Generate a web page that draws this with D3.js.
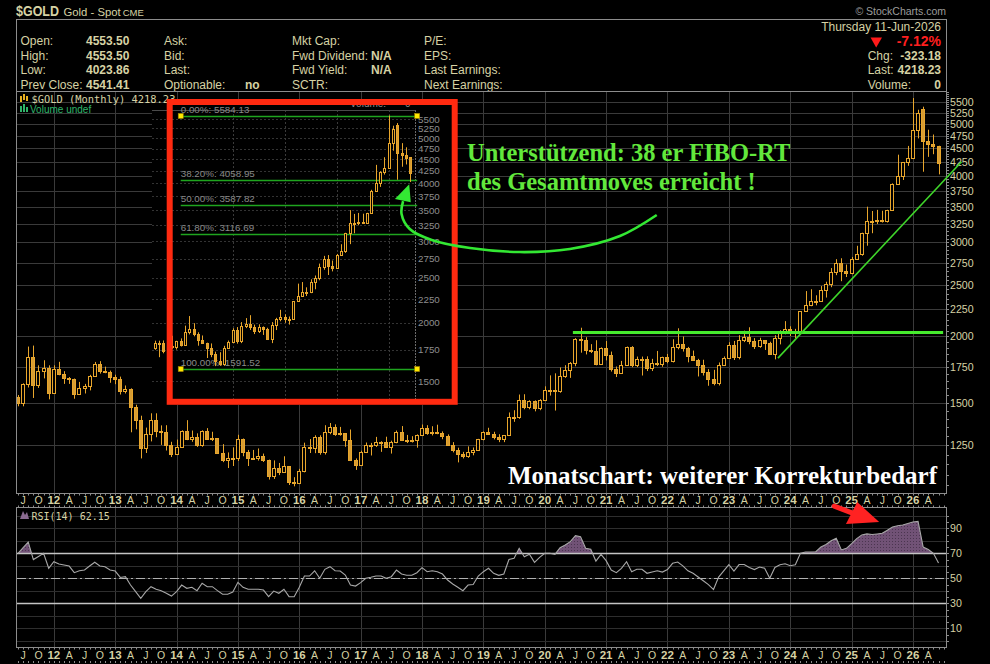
<!DOCTYPE html>
<html><head><meta charset="utf-8">
<script src="https://cdn.jsdelivr.net/npm/d3@7/dist/d3.min.js"></script>
<style>html,body{margin:0;padding:0;background:#000;overflow:hidden}svg{display:block}</style>
</head><body>
<svg id="chart" width="990" height="664"></svg>
<script>
// ================= DATA =================
const startMonth = "2011-06"; // first monthly bar (Jun 2011) ... last = Jun 2026
const opens = [
1536,1500,1628,1826,1620,1722,1746,
1565,1738,1697,1669,1664,1560,1598,1615,1687,1772,1719,1712,
1675,1663,1578,1595,1472,1393,1234,1312,1396,1327,1323,1253,
1202,1240,1326,1284,1296,1250,1327,1282,1287,1210,1171,1182,
1184,1283,1212,1183,1183,1190,1172,1095,1133,1115,1142,1065,
1061,1118,1238,1233,1293,1215,1321,1351,1309,1316,1277,1173,
1146,1211,1249,1249,1269,1268,1242,1269,1322,1280,1271,1275,
1303,1345,1318,1325,1316,1299,1253,1224,1201,1192,1215,1222,
1282,1321,1313,1292,1284,1305,1409,1413,1520,1472,1513,1464,
1517,1589,1585,1577,1687,1730,1781,1975,1968,1886,1879,1777,
1898,1847,1734,1708,1769,1907,1770,1814,1813,1743,1783,1774,
1829,1796,1909,1937,1897,1838,1807,1766,1711,1660,1633,1768,
1824,1928,1827,1969,1990,1963,1919,1965,1940,1849,1983,2036,
2063,2039,2044,2230,2286,2327,2327,2447,2503,2635,2744,2653,
2625,2798,2858,3124,3289,3289,3303,3290,3448,3858,4003,4239,
4319,4875,5330,4640,4590,4553.5];
const highs = [
1552,1632,1913,1921,1764,1803,1764,
1764,1791,1720,1677,1666,1642,1628,1693,1790,1796,1754,1724,
1694,1680,1617,1597,1488,1419,1348,1434,1434,1361,1362,1268,
1280,1332,1392,1331,1315,1332,1345,1324,1288,1255,1211,1238,
1307,1286,1224,1224,1232,1205,1174,1170,1157,1191,1142,1088,
1128,1263,1283,1304,1304,1362,1375,1367,1352,1317,1337,1180,
1220,1264,1262,1295,1271,1296,1274,1331,1357,1306,1299,1309,
1366,1362,1356,1365,1326,1309,1266,1236,1214,1243,1237,1284,
1326,1347,1324,1310,1305,1439,1453,1555,1557,1517,1516,1524,
1611,1689,1704,1748,1765,1789,1984,2075,1992,1933,1966,1906,
1959,1872,1755,1798,1913,1916,1832,1832,1834,1814,1877,1831,
1853,1974,2070,1998,1910,1880,1814,1807,1735,1730,1786,1833,
1949,1960,2009,2049,2079,1984,1987,1966,1953,2009,2052,2135,
2088,2065,2222,2431,2450,2387,2484,2531,2685,2790,2801,2726,
2817,2956,3128,3500,3435,3452,3439,3454,3871,4381,4245,4550,
5595,5320,5390,4880,4780,4553.5];
const lows = [
1478,1478,1603,1532,1600,1667,1523,
1563,1690,1628,1628,1527,1555,1562,1583,1684,1702,1705,1636,
1626,1555,1562,1321,1338,1180,1208,1270,1293,1251,1221,1187,
1202,1240,1277,1268,1240,1241,1281,1272,1207,1161,1132,1142,
1167,1191,1142,1175,1169,1162,1077,1080,1098,1111,1052,1046,
1061,1111,1208,1207,1199,1200,1310,1301,1302,1241,1171,1123,
1146,1209,1195,1240,1214,1236,1205,1260,1272,1261,1264,1236,
1302,1307,1303,1310,1282,1247,1211,1160,1180,1183,1196,1221,
1276,1311,1281,1266,1266,1305,1382,1400,1459,1459,1446,1453,
1517,1548,1451,1567,1671,1671,1757,1863,1849,1860,1764,1776,
1802,1717,1677,1705,1766,1750,1751,1688,1721,1721,1759,1753,
1780,1786,1890,1872,1787,1805,1681,1688,1615,1618,1617,1765,
1823,1805,1810,1950,1932,1893,1903,1885,1847,1810,1931,2017,
2002,1984,2039,2229,2277,2286,2319,2364,2472,2604,2537,2583,
2614,2790,2832,2957,3121,3247,3268,3268,3436,3850,3928,4175,
4300,4700,4070,4340,4390,4023.86];
const closes = [
1500,1628,1826,1620,1722,1746,1565,
1738,1697,1669,1664,1560,1598,1615,1687,1772,1719,1712,1675,
1663,1578,1595,1472,1393,1234,1312,1396,1327,1323,1253,1202,
1240,1326,1284,1296,1250,1327,1282,1287,1210,1171,1182,1184,
1283,1212,1183,1183,1190,1172,1095,1133,1115,1142,1065,1061,
1118,1238,1233,1293,1215,1321,1351,1309,1316,1277,1173,1146,
1211,1249,1249,1269,1268,1242,1269,1322,1280,1271,1275,1303,
1345,1318,1325,1316,1299,1253,1224,1201,1192,1215,1222,1282,
1321,1313,1292,1284,1305,1409,1413,1520,1472,1513,1464,1517,
1589,1585,1577,1687,1730,1781,1975,1968,1886,1879,1777,1898,
1847,1734,1708,1769,1907,1770,1814,1813,1743,1783,1774,1829,
1796,1909,1937,1897,1838,1807,1766,1711,1660,1633,1768,1824,
1928,1827,1969,1990,1963,1919,1965,1940,1849,1983,2036,2063,
2039,2044,2230,2286,2327,2327,2447,2503,2635,2744,2653,2625,
2798,2858,3124,3289,3289,3303,3290,3448,3858,4003,4239,4319,
4875,5240,4640,4590,4541.41,4218.23];
const rsiValues = [
70,74.5,79,65,67.5,70,58,
63.3,61.4,60.6,59.8,54.5,56,56.6,59.8,62.8,59.8,59.3,56.6,
55.8,50.7,51.3,44.6,39.3,34,39.3,43.3,41.2,40.1,38,35.8,
39.3,44.6,42,42.8,40.1,46,43.3,43.3,40.1,37.2,37.2,39,
46.8,42.8,41.2,41.2,41.2,40.6,35.3,39.8,38,41.2,35.3,35.3,
42.8,51.8,51.8,56,50,57.2,59.3,56,55.8,52.6,44.6,43.8,
46.5,50,50.8,51.8,51.8,50,51.3,56.6,53.4,52.4,52.4,54.5,
58.5,55.3,56,55.3,53.4,48.6,45.4,42.8,40.1,44.6,45.1,51.8,
55.3,58,54,52.4,53.4,65,66,74,67.3,69.2,62.8,66.8,
70,70,69.2,74.5,76.6,79.3,84.1,83.3,74,73.2,63.8,69.2,
64.1,56.6,54.5,58,63.3,55.3,57.2,57.2,54,55,56,55,
57,62,63,60,56,54,51,48,45,41,51,56,
61,55.7,61,61,58.7,57,59,58,50,58.7,60.8,61.6,
60,60.8,70,71,71,71.3,75,77,80,82,72.7,74,
77.7,81.7,84.7,85.5,85,85.5,86,88.5,91,92,92.6,93.8,
95,95.5,75,73,70,62.15];

const priceTicks = [1250,1500,1750,2000,2250,2500,2750,3000,3250,3500,3750,4000,4250,4500,4750,5000,5250,5500];
const insetTicks = [1500,1750,2000,2250,2500,2750,3000,3250,3500,3750,4000,4250,4500,4750,5000,5250,5500];
const rsiTicks = [10,30,50,70,90];
const rsiGrid = [0,10,20,30,40,50,60,70,80,90,100];
const quarterLetters = {3:"A",6:"J",9:"O"};
const fibLevels = [
  {label:"0.00%: 5584.13", value:5584.13, marker:true},
  {label:"38.20%: 4058.95", value:4058.95},
  {label:"50.00%: 3587.82", value:3587.82},
  {label:"61.80%: 3116.69", value:3116.69},
  {label:"100.00%: 1591.52", value:1591.52, marker:true}];
const fibSpan = [120.0, 174.6];           // month index range of the Fib tool (inset)
const insetFirstMonth = 113;              // Jun 2021 in month index (Jan 2012 = 0)
const insetYearGrid = [132,144,156,168];  // Jan 23..Jan 26
// annotations, in [monthIndex, price] or [monthIndex, rsi]
const supportLine = [[101.5,2032],[173.9,2032]];
const trendLine = [[141.6,1820],[177.5,4250]];
const curvedArrow = [[117.9,3376],[110.7,3083],[100.9,2915],[91.1,2877],[81.4,2927],[73.9,3031],[69.6,3178],[68.0,3391],[68.3,3586]];
const curvedArrowHead = [[69.5,3855],[66.7,3618],[69.8,3566]];
const rsiArrowShaft = [[152.6,107.8],[156.7,101.4]];
const rsiArrowHead = [[161.4,95.0],[154.9,93.4],[157.1,111.0]];

const headerRows = [
  {labels:["Open:","Ask:","Mkt Cap:","P/E:"], values:["4553.50","","",""]},
  {labels:["High:","Bid:","Fwd Dividend:","EPS:"], values:["4553.50","","N/A",""]},
  {labels:["Low:","Last:","Fwd Yield:","Last Earnings:"], values:["4023.86","","N/A",""]},
  {labels:["Prev Close:","Optionable:","SCTR:","Next Earnings:"], values:["4541.41","no","",""]}];
const headerRight = [
  {label:"Chg:", value:"-323.18"},
  {label:"Last:", value:"4218.23"},
  {label:"Volume:", value:"0"}];

// ================= DRAW =================
const svg = d3.select("#chart");
const tan = "#d6d2a4", gridC = "#3a3a3a", borderC = "#8c8c8c";
const SANS = "'Liberation Sans', Arial, sans-serif";
const MONO = "'DejaVu Sans Mono', monospace";
const SERIF = "'Liberation Serif', 'Times New Roman', serif";
svg.append("rect").attr("width",990).attr("height",664).attr("fill","#000");

const [sy, sm] = startMonth.split("-").map(Number);
const off0 = (sy-2012)*12 + (sm-1);
const mIdx = closes.map((_,i)=> i + off0);

const xMain = d3.scaleLinear().domain([-7.2, 174.6]).range([17, 946.7]);
const yMain = d3.scaleLog().domain([1015, 5768]).range([493.3, 91]);
const yRsi = d3.scaleLinear().domain([30,70]).range([603.3,553.3]);
const xIn = d3.scaleLinear().domain([132,168]).range([232.7,388.6]);
const yIn = d3.scaleLog().domain([1500,5500]).range([381,119]);

const defs = svg.append("defs");
defs.append("clipPath").attr("id","mainClip").append("rect").attr("x",17).attr("y",91.5).attr("width",929.5).attr("height",402);
defs.append("clipPath").attr("id","insetClip").append("rect").attr("x",152).attr("y",104).attr("width",303).attr("height",300);
defs.append("clipPath").attr("id","rsiClip").append("rect").attr("x",17).attr("y",508).attr("width",929.5).attr("height",139.5);
const pat = defs.append("pattern").attr("id","rsiPat").attr("width",3).attr("height",3).attr("patternUnits","userSpaceOnUse");
pat.append("rect").attr("width",3).attr("height",3).attr("fill","#715276");
pat.append("rect").attr("x",1).attr("y",1).attr("width",1).attr("height",1).attr("fill","#4b3550");

// ---- header ----
const hdr = svg.append("g").attr("font-family",SANS).attr("fill",tan);
hdr.append("text").attr("x",16).attr("y",16).attr("font-size",14.5).attr("font-weight","bold")
  .attr("textLength",43).attr("lengthAdjust","spacingAndGlyphs").text("$GOLD");
hdr.append("text").attr("x",63.5).attr("y",16).attr("font-size",11.3).text("Gold - Spot");
hdr.append("text").attr("x",122.7).attr("y",16).attr("font-size",9.5).text("CME");
hdr.append("text").attr("x",946).attr("y",15).attr("font-size",10.5).attr("fill","#9c9c9c").attr("text-anchor","end").text("© StockCharts.com");
svg.append("rect").attr("x",16.5).attr("y",19.5).attr("width",930).attr("height",72).attr("fill","none").attr("stroke",borderC);
const rowY = [45, 59.5, 74, 88.5];
const colX = [20.5, 164, 292, 424];
const valX = [86, 245, 371, null];
headerRows.forEach((r,ri)=>{
  r.labels.forEach((t,ci)=> hdr.append("text").attr("x",colX[ci]).attr("y",rowY[ri]).attr("font-size",12).text(t));
  r.values.forEach((t,ci)=>{ if(t) hdr.append("text").attr("x",valX[ci]).attr("y",rowY[ri]).attr("font-size",12).attr("font-weight","bold").text(t); });
});
hdr.append("text").attr("x",941).attr("y",30.5).attr("font-size",12).attr("text-anchor","end").text("Thursday  11-Jun-2026");
hdr.append("path").attr("d","M870.5,37.5 L882,37.5 L876.2,47.5 Z").attr("fill","#ff1a1a");
hdr.append("text").attr("x",941).attr("y",46).attr("font-size",14).attr("font-weight","bold").attr("fill","#ff1f1f").attr("text-anchor","end").text("-7.12%");
headerRight.forEach((r,i)=>{
  hdr.append("text").attr("x",867.7).attr("y",rowY[i+1]).attr("font-size",12).text(r.label);
  hdr.append("text").attr("x",941).attr("y",rowY[i+1]).attr("font-size",12).attr("font-weight","bold").attr("text-anchor","end").text(r.value);
});

// ---- main panel grid ----
const gGrid = svg.append("g");
priceTicks.forEach(p=>{
  const y = Math.round(yMain(p))+0.5;
  gGrid.append("line").attr("x1",17).attr("x2",946.5).attr("y1",y).attr("y2",y).attr("stroke",gridC);
});
const yearIdx = d3.range(0,169,12);
yearIdx.forEach(m=>{
  const x = Math.round(xMain(m))+0.5;
  gGrid.append("line").attr("x1",x).attr("x2",x).attr("y1",92).attr("y2",493).attr("stroke",gridC);
  gGrid.append("line").attr("x1",x).attr("x2",x).attr("y1",508).attr("y2",647).attr("stroke",gridC);
});
rsiGrid.forEach(r=>{
  const y = Math.round(yRsi(r))+0.5;
  gGrid.append("line").attr("x1",17).attr("x2",946.5).attr("y1",y).attr("y2",y).attr("stroke","#2e2e2e");
});

// ---- candles ----
function drawCandles(g, xs, ys, wide, startIdx){
  const stroke = "#e8a62c", fillDn = "#d69c34";
  closes.forEach((c,i)=>{
    const m = mIdx[i];
    if (m < startIdx) return;
    const o=opens[i], h=highs[i], l=lows[i];
    const cx = Math.round(xs(m));
    g.append("line").attr("x1",cx+0.5).attr("x2",cx+0.5).attr("y1",ys(h)).attr("y2",ys(l)).attr("stroke",stroke).attr("stroke-width",1);
    const top = Math.round(ys(Math.max(o,c)))+0.5;
    const bot = Math.round(ys(Math.min(o,c)))+0.5;
    const down = c < o;
    g.append("rect").attr("x", wide ? cx-1.5 : cx-0.5).attr("width", wide ? 3 : 2)
      .attr("y",top).attr("height",Math.max(1,bot-top))
      .attr("fill", down ? fillDn : "#000").attr("stroke",stroke).attr("stroke-width",1);
  });
}
drawCandles(svg.append("g").attr("clip-path","url(#mainClip)"), xMain, yMain, true, -100);

// legend of main
const leg = svg.append("g");
leg.append("rect").attr("x",20).attr("y",96).attr("width",2).attr("height",6).attr("fill","#e8b020");
leg.append("rect").attr("x",23).attr("y",94).attr("width",2).attr("height",6).attr("fill","#e8b020");
leg.append("rect").attr("x",26).attr("y",96).attr("width",2).attr("height",5).attr("fill","#e8b020");
leg.append("text").attr("x",31.5).attr("y",102.5).attr("font-family",MONO).attr("font-size",10.4).attr("fill",tan).text("$GOLD (Monthly) 4218.23");
leg.append("rect").attr("x",20).attr("y",106).attr("width",2).attr("height",6).attr("fill","#2fb56a");
leg.append("rect").attr("x",23).attr("y",104).attr("width",2).attr("height",8).attr("fill","#2fb56a");
leg.append("rect").attr("x",26).attr("y",107).attr("width",2).attr("height",5).attr("fill","#2fb56a");
leg.append("text").attr("x",30).attr("y",112.5).attr("font-family",SANS).attr("font-size",10).attr("fill","#2fb56a").text("Volume undef");

// ---- inset ----
const ins = svg.append("g");
ins.append("rect").attr("x",152).attr("y",104).attr("width",303).attr("height",301).attr("fill","#000");
const insG = ins.append("g").attr("clip-path","url(#insetClip)");
insetTicks.forEach(p=>{
  const y = Math.round(yIn(p))+0.5;
  insG.append("line").attr("x1",152).attr("x2",415).attr("y1",y).attr("y2",y).attr("stroke","#333").attr("stroke-dasharray","2,2");
  ins.append("text").attr("x",418).attr("y",yIn(p)+3.5).attr("font-family",SANS).attr("font-size",9.8).attr("fill","#8e8e8e").text(p);
});
insetYearGrid.forEach(m=>{
  const x = Math.round(xIn(m))+0.5;
  insG.append("line").attr("x1",x).attr("x2",x).attr("y1",110).attr("y2",405).attr("stroke","#3a3a3a").attr("stroke-dasharray","2,2");
});
insG.append("line").attr("x1",415.5).attr("x2",415.5).attr("y1",110).attr("y2",405).attr("stroke","#6a6a6a").attr("stroke-dasharray","2,1");
insG.append("line").attr("x1",152).attr("x2",415.5).attr("y1",110.5).attr("y2",110.5).attr("stroke","#4a4a4a");
ins.append("text").attr("x",350).attr("y",107).attr("font-family",SANS).attr("font-size",10).attr("fill","#8e8e8e").text("Volume:");
ins.append("text").attr("x",405).attr("y",107).attr("font-family",SANS).attr("font-size",10).attr("fill","#8e8e8e").text("0");
fibLevels.forEach(f=>{
  const y = Math.round(yIn(f.value))+0.5;
  insG.append("line").attr("x1",xIn(fibSpan[0])).attr("x2",xIn(fibSpan[1])).attr("y1",y).attr("y2",y).attr("stroke","#1fa51f").attr("stroke-width",1.6);
  insG.append("text").attr("x",xIn(fibSpan[0])).attr("y",yIn(f.value)-3).attr("font-family",SANS).attr("font-size",9.8).attr("fill","#8a8a8a").text(f.label);
});
drawCandles(insG, xIn, yIn, false, insetFirstMonth);
fibLevels.filter(f=>f.marker).forEach(f=>{
  fibSpan.forEach(m=>{
    ins.append("rect").attr("x",xIn(m)-2.5).attr("y",yIn(f.value)-2.5).attr("width",5).attr("height",5).attr("fill","#ffe800").attr("stroke","#a08000").attr("stroke-width",0.6);
  });
});
ins.append("rect").attr("x",169.7).attr("y",102).attr("width",285).attr("height",299.8).attr("fill","none").attr("stroke","#ff2a10").attr("stroke-width",6);

// ---- main panel border + price axis ----
svg.append("rect").attr("x",16.5).attr("y",91.5).attr("width",930).attr("height",402).attr("fill","none").attr("stroke",borderC);
const axG = svg.append("g").attr("font-family",SANS).attr("fill",tan);
d3.range(1050,5751,50).forEach(p=>{
  const y = Math.round(yMain(p))+0.5;
  axG.append("line").attr("x1",946.5).attr("x2",949).attr("y1",y).attr("y2",y).attr("stroke","#8c8c8c");
});
priceTicks.forEach(p=>{
  axG.append("text").attr("x",950).attr("y",yMain(p)+4).attr("font-size",10.6).text(p);
});

// ---- x axis labels (two strips) ----
function xStrip(yTop, yBottom, baseline){
  const g = svg.append("g").attr("font-family",SANS).attr("fill",tan);
  d3.range(-7,175).forEach(m=>{
    const x = Math.round(xMain(m))+0.5;
    g.append("line").attr("x1",x).attr("x2",x).attr("y1",yTop).attr("y2",yTop+2).attr("stroke","#8c8c8c");
    g.append("line").attr("x1",x).attr("x2",x).attr("y1",yBottom-2).attr("y2",yBottom).attr("stroke","#8c8c8c");
  });
  d3.range(-6,172,3).forEach(m=>{
    const mm = ((m%12)+12)%12;
    const isYear = mm===0;
    const t = isYear ? String(12 + Math.floor(m/12)).padStart(2,"0") : quarterLetters[mm];
    g.append("text").attr("x",xMain(m)).attr("y",baseline).attr("text-anchor","middle")
      .attr("font-size",isYear?11.5:10.5).attr("font-weight",isYear?"bold":"normal").text(t);
  });
}
xStrip(493.5, 507.5, 504);
xStrip(647.5, 663, 659);

// ---- RSI panel ----
const rsiG = svg.append("g");
const pts = rsiValues.map((v,i)=>({m:mIdx[i], v}));
const fillPts = [];
pts.forEach((p,i)=>{
  if(i>0){ const q=pts[i-1]; if((q.v-70)*(p.v-70)<0){ const t=(70-q.v)/(p.v-q.v); fillPts.push({m:q.m+t*(p.m-q.m), v:70}); } }
  fillPts.push(p);
});
rsiG.append("path").datum(fillPts).attr("clip-path","url(#rsiClip)")
  .attr("d", d3.area().x(d=>xMain(d.m)).y0(yRsi(70)).y1(d=>yRsi(Math.max(70,d.v))))
  .attr("fill","url(#rsiPat)");
[70,30].forEach(r=>{
  const y = Math.round(yRsi(r))+0.5;
  rsiG.append("line").attr("x1",17).attr("x2",946.5).attr("y1",y).attr("y2",y).attr("stroke","#c4c4c4").attr("stroke-width",1.4);
});
{
  const y = Math.round(yRsi(50))+0.5;
  rsiG.append("line").attr("x1",17).attr("x2",946.5).attr("y1",y).attr("y2",y).attr("stroke","#b0b0b0").attr("stroke-width",1.2).attr("stroke-dasharray","9,3,2,3");
}
rsiG.append("path").datum(pts).attr("clip-path","url(#rsiClip)")
  .attr("d", d3.line().x(d=>xMain(d.m)).y(d=>yRsi(d.v)))
  .attr("fill","none").attr("stroke","#a8a8a8").attr("stroke-width",1.1);
svg.append("rect").attr("x",16.5).attr("y",507.5).attr("width",930).attr("height",140).attr("fill","none").attr("stroke",borderC);
d3.range(0,101,5).forEach(r=>{
  const y = Math.round(yRsi(r))+0.5;
  svg.append("line").attr("x1",946.5).attr("x2",949).attr("y1",y).attr("y2",y).attr("stroke","#8c8c8c");
});
rsiTicks.forEach(r=>{
  svg.append("text").attr("x",950).attr("y",yRsi(r)+4).attr("font-family",SANS).attr("font-size",10.6).attr("fill",tan).text(r);
});
svg.append("path").attr("d","M20,519 L23,511 L25,515 L27,512 L29,519 Z").attr("fill","#8a6a90");
svg.append("text").attr("x",31.5).attr("y",519.5).attr("font-family",MONO).attr("font-size",10).attr("fill",tan).text("RSI(14) 62.15");

// ---- annotations ----
const ann = svg.append("g");
const lineMain = d3.line().x(d=>xMain(d[0])).y(d=>yMain(d[1]));
ann.append("path").attr("d",lineMain(supportLine)).attr("stroke","#46ea2e").attr("stroke-width",3).attr("fill","none");
ann.append("path").attr("d",lineMain(trendLine)).attr("stroke","#3fd62a").attr("stroke-width",1.6).attr("fill","none");
ann.append("path").attr("d",lineMain.curve(d3.curveCatmullRom)(curvedArrow)).attr("stroke","#33e833").attr("stroke-width",2.6).attr("fill","none");
ann.append("path").attr("d",d3.line().x(d=>xMain(d[0])).y(d=>yMain(d[1]))(curvedArrowHead)+"Z").attr("fill","#33e833");
const lineRsi = d3.line().x(d=>xMain(d[0])).y(d=>yRsi(d[1]));
ann.append("path").attr("d",lineRsi(rsiArrowShaft)).attr("stroke","#ff2222").attr("stroke-width",5).attr("stroke-linecap","round");
ann.append("path").attr("d",lineRsi(rsiArrowHead)+"Z").attr("fill","#ff2222");

ann.append("text").attr("x",467).attr("y",161).attr("font-family",SERIF).attr("font-weight","bold").attr("font-size",24.5).attr("fill","#62e83c").text("Unterstützend: 38 er FIBO-RT");
ann.append("text").attr("x",467).attr("y",190).attr("font-family",SERIF).attr("font-weight","bold").attr("font-size",24.5).attr("fill","#62e83c").text("des Gesamtmoves erreicht !");
ann.append("text").attr("x",508).attr("y",484).attr("font-family",SERIF).attr("font-weight","bold").attr("font-size",25).attr("fill","#ffffff").text("Monatschart: weiterer Korrekturbedarf");
</script>
</body></html>
